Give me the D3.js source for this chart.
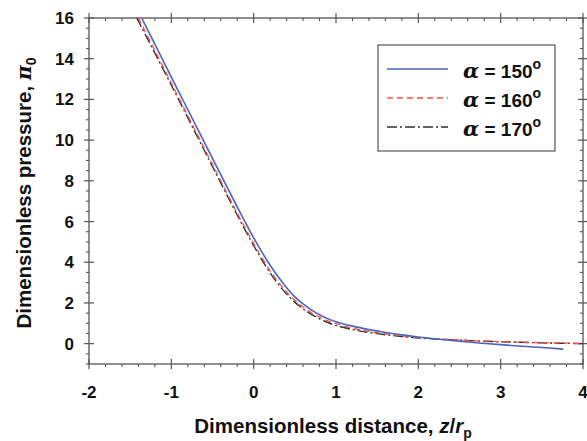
<!DOCTYPE html>
<html><head><meta charset="utf-8">
<script src="https://cdn.jsdelivr.net/npm/d3@7"></script>
<style>body{margin:0;background:#fff}svg{display:block}text{font-family:"Liberation Sans",Arial,sans-serif;font-weight:bold}</style>
</head><body>
<svg id="c" width="587" height="441"></svg>
<script>
const xTicks = [-2,-1,0,1,2,3,4];
const yTicks = [0,2,4,6,8,10,12,14,16];
const seriesNames = ["150","160","170"];
const blue150 = [[-1.36,16],[-1.0,13.1],[-0.6,9.9],[-0.4,8.3],[-0.2,6.72],[0,5.2],[0.1,4.5],[0.2,3.85],[0.3,3.27],[0.4,2.75],[0.5,2.3],[0.6,1.95],[0.7,1.66],[0.8,1.42],[0.9,1.23],[1.0,1.08],[1.2,0.86],[1.4,0.69],[1.6,0.55],[1.8,0.43],[2.0,0.33],[2.5,0.12],[3.0,-0.05],[3.5,-0.19],[3.76,-0.27]];
const red160 = [[-1.40,16],[-1.0,12.8],[-0.6,9.6],[-0.4,8.0],[-0.2,6.42],[0,4.92],[0.1,4.22],[0.2,3.58],[0.3,3.02],[0.4,2.54],[0.5,2.13],[0.6,1.8],[0.7,1.52],[0.8,1.3],[0.9,1.12],[1.0,0.98],[1.2,0.76],[1.4,0.6],[1.6,0.48],[1.8,0.38],[2.0,0.3],[2.5,0.18],[3.0,0.1],[3.5,0.05],[4.0,0.01]];
const black170 = [[-1.42,16],[-1.0,12.7],[-0.6,9.5],[-0.4,7.9],[-0.2,6.32],[0,4.82],[0.1,4.12],[0.2,3.48],[0.3,2.92],[0.4,2.44],[0.5,2.04],[0.6,1.71],[0.7,1.44],[0.8,1.22],[0.9,1.04],[1.0,0.9],[1.2,0.69],[1.4,0.55],[1.6,0.44],[1.8,0.35],[2.0,0.28],[2.5,0.17],[3.0,0.09],[3.5,0.04],[4.0,0.0]];
const series = [blue150, red160, black170];

const svg = d3.select("#c");
const L=89, R=583, T=18, B=364;
const x = d3.scaleLinear().domain([-2,4]).range([L,R]);
const y = d3.scaleLinear().domain([-1,16]).range([B,T]);
const axisColor = "#555";

svg.append("clipPath").attr("id","clip").append("rect").attr("x",L).attr("y",T).attr("width",R-L).attr("height",B-T);

svg.append("rect").attr("x",L).attr("y",T).attr("width",R-L).attr("height",B-T)
  .attr("fill","none").attr("stroke",axisColor).attr("stroke-width",1.3);

const g = svg.append("g");
const xMinor = d3.range(-2,4.001,0.2).filter(v=>Math.abs(v-Math.round(v))>1e-6);
xTicks.forEach(v=>{
  [B,T].forEach(yy=>g.append("line").attr("x1",x(v)).attr("x2",x(v)).attr("y1",yy-5).attr("y2",yy+5).attr("stroke",axisColor).attr("stroke-width",1.2));
});
xMinor.forEach(v=>{
  g.append("line").attr("x1",x(v)).attr("x2",x(v)).attr("y1",B).attr("y2",B+3).attr("stroke",axisColor).attr("stroke-width",1.1);
  g.append("line").attr("x1",x(v)).attr("x2",x(v)).attr("y1",T).attr("y2",T+3).attr("stroke",axisColor).attr("stroke-width",1.1);
});
const yMinor = d3.range(-1,16.001,0.5).filter(v=>Math.abs(v/2-Math.round(v/2))>1e-6);
yTicks.forEach(v=>{
  [L,R].forEach(xx=>g.append("line").attr("y1",y(v)).attr("y2",y(v)).attr("x1",xx-5).attr("x2",xx+5).attr("stroke",axisColor).attr("stroke-width",1.2));
});
yMinor.forEach(v=>{
  g.append("line").attr("y1",y(v)).attr("y2",y(v)).attr("x1",L-3).attr("x2",L).attr("stroke",axisColor).attr("stroke-width",1.1);
  g.append("line").attr("y1",y(v)).attr("y2",y(v)).attr("x1",R-3).attr("x2",R).attr("stroke",axisColor).attr("stroke-width",1.1);
});

xTicks.forEach(v=>{
  g.append("text").attr("x",x(v)).attr("y",B+34).attr("text-anchor","middle")
   .attr("font-size",17).attr("fill","#111").text(v<0?"-"+Math.abs(v):v);
});
yTicks.forEach(v=>{
  g.append("text").attr("x",L-15).attr("y",y(v)+6).attr("text-anchor","end")
   .attr("font-size",17).attr("fill","#111").text(v);
});

const xt = svg.append("text").attr("x",333).attr("y",433).attr("text-anchor","middle").attr("font-size",20.5).attr("fill","#111");
xt.append("tspan").text("Dimensionless distance, ");
xt.append("tspan").attr("font-style","italic").text("z");
xt.append("tspan").text("/");
xt.append("tspan").attr("font-style","italic").text("r");
xt.append("tspan").attr("font-size",14).attr("dy",5).text("p");

const yt = svg.append("text").attr("transform","translate(31,193) rotate(-90)").attr("text-anchor","middle").attr("font-size",20.5).attr("fill","#111");
yt.append("tspan").text("Dimensionless pressure, ");
yt.append("tspan").attr("font-style","italic").attr("font-family","DejaVu Serif").text("π");
yt.append("tspan").attr("font-size",14).attr("dy",5).text("0");

const line = d3.line().x(d=>x(d[0])).y(d=>y(d[1])).curve(d3.curveCatmullRom.alpha(0.5));
const styles = [
  {stroke:"#4a64c0", dash:null, w:1.6},
  {stroke:"#ff4d3d", dash:"6,4", w:1.3},
  {stroke:"#333333", dash:"10,3,2,3", w:1.4}
];
const lg = svg.append("g").attr("clip-path","url(#clip)");
[2,1,0].forEach(i=>{
  lg.append("path").datum(series[i]).attr("d",line).attr("fill","none")
    .attr("stroke",styles[i].stroke).attr("stroke-width",styles[i].w)
    .attr("stroke-dasharray",styles[i].dash);
});

svg.append("rect").attr("x",378).attr("y",45).attr("width",177).attr("height",106)
  .attr("fill","#fff").attr("stroke",axisColor).attr("stroke-width",1.2);
const rowsY = [69,98,127];
seriesNames.forEach((n,i)=>{
  svg.append("line").attr("x1",387).attr("x2",448).attr("y1",rowsY[i]).attr("y2",rowsY[i])
    .attr("stroke",styles[i].stroke).attr("stroke-width",styles[i].w).attr("stroke-dasharray",styles[i].dash);
  const t = svg.append("text").attr("x",463).attr("y",rowsY[i]+9).attr("font-size",19).attr("fill","#111");
  t.append("tspan").attr("font-style","italic").attr("font-family","DejaVu Serif").attr("font-size",21).text("α");
  t.append("tspan").text(" = "+n);
  t.append("tspan").attr("font-size",14).attr("dy",-9).text("o");
});
</script>
</body></html>
